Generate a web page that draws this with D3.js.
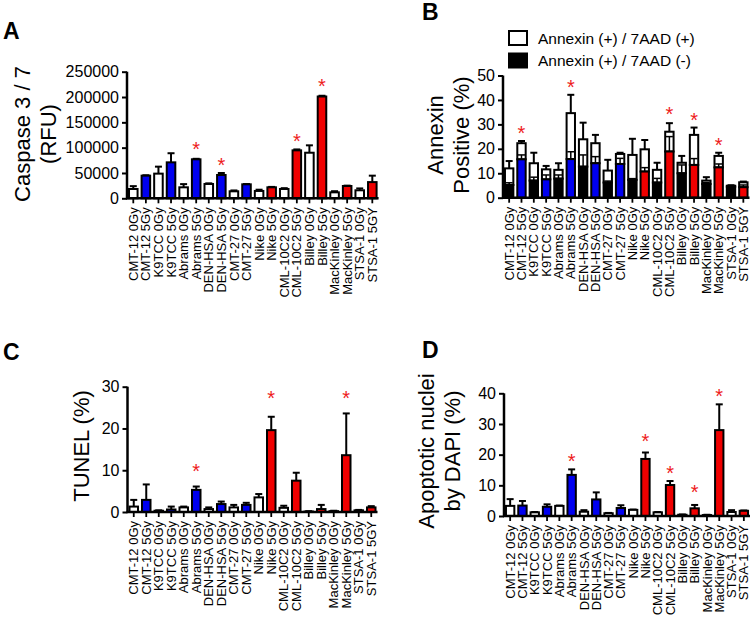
<!DOCTYPE html>
<html><head><meta charset="utf-8">
<script src="https://cdnjs.cloudflare.com/ajax/libs/d3/7.8.5/d3.min.js"></script>
<style>
html,body{margin:0;padding:0;background:#fff;}
text{font-family:"Liberation Sans",Arial,sans-serif;}
</style></head><body>
<svg id="chart" width="750" height="619"></svg>
<script>
// ---------- DATA ----------
const categories = ["CMT-12 0Gy","CMT-12 5Gy","K9TCC 0Gy","K9TCC 5Gy","Abrams 0Gy","Abrams 5Gy",
  "DEN-HSA 0Gy","DEN-HSA 5Gy","CMT-27 0Gy","CMT-27 5Gy","Nike 0Gy","Nike 5Gy",
  "CML-10C2 0Gy","CML-10C2 5Gy","Billey 0Gy","Billey 5Gy","MacKinley 0Gy","MacKinley 5Gy",
  "STSA-1 0Gy","STSA-1 5GY"];
const cellLines = ["CMT-12","K9TCC","Abrams","DEN-HSA","CMT-27","Nike","CML-10C2","Billey","MacKinley","STSA-1"];
const lineGroup = ["G1","G1","G1","G1","G1","G2","G2","G2","G2","G2"];
const legendLabels = ["Annexin (+) / 7AAD (+)","Annexin (+) / 7AAD (-)"];

// Panel A: Caspase 3/7 (RFU)
const caspase    = [18400,44700,48700,71000,21700,77000,28300,46000,13800,27600,14500,21700,18400,94700,90000,201000,11800,24300,15800,32000];
const caspaseErr = [5600,800,13800,18000,6300,1000,1200,4000,1700,500,2500,800,1600,1800,14600,1500,2200,700,3700,12700];
const caspaseTicks = [0,50000,100000,150000,200000,250000];
const caspaseStars = [[5,107200],[7,75600],[13,121600],[15,230200]];

// Panel B: Annexin positive (%) — stacked
const annexin7aadNeg    = [5.2,15.7,7.0,7.5,7.8,15.8,12.7,14.1,6.2,13.8,7.3,10.7,6.2,18.9,10.0,13.4,5.6,12.4,4.5,4.3];
const annexin7aadNegErr = [0.9,1.8,1.4,1.8,1.5,3.0,4.8,2.7,0.6,2.3,0.5,1.6,1.7,6.1,3.4,2.6,0.6,1.4,0.3,0.9];
const annexin7aadPos    = [6.8,6.6,7.1,4.1,3.6,18.8,11.2,8.2,4.9,4.1,10.2,9.1,5.2,8.1,4.3,12.3,1.4,4.7,0.4,2.0];
const annexinTotalErr   = [3.0,0.9,4.3,1.4,2.7,7.5,6.8,3.4,4.4,0.5,6.6,3.8,2.9,3.5,2.8,3.0,1.4,1.3,0.2,0.3];
const annexinTicks = [0,10,20,30,40,50];
const annexinStars = [[1,28.4],[5,47.1],[13,35.9],[15,33.8],[17,23.6]];

// Panel C: TUNEL (%)
const tunel    = [1.3,2.9,0.3,0.6,1.1,5.3,0.7,1.9,1.1,1.7,3.5,19.6,1.0,7.5,0.1,0.7,0.2,13.6,0.4,1.1];
const tunelErr = [1.6,3.7,0.1,0.7,0.2,0.8,0.4,0.6,0.6,0.5,0.8,3.2,0.5,1.9,0.1,1.0,0.1,10.0,0.1,0.3];
const tunelTicks = [0,10,20,30];
const tunelStars = [[5,10.8],[11,28.4],[17,28.4]];

// Panel D: Apoptotic nuclei by DAPI (%)
const dapi    = [3.3,3.4,1.2,3.0,3.3,13.4,1.4,5.4,0.9,2.6,2.0,18.6,1.2,10.1,0.4,2.5,0.3,28.0,1.3,1.7];
const dapiErr = [2.2,1.5,0.1,0.8,0.1,1.8,0.5,2.3,0.1,0.9,0.1,2.1,0.1,1.3,0.1,1.1,0.1,8.4,0.6,0.1];
const dapiTicks = [0,10,20,30,40];
const dapiStars = [[5,19.3],[11,25.8],[13,15.5],[15,9.3],[17,40.5]];

// ---------- DRAWING ----------
const svg = d3.select("#chart");
const groupColor = d3.scaleOrdinal().domain(["G1","G2"]).range(["#0000f0","#f00000"]);
function fillFor(i){
  const cat = categories[i];
  if (/ 0Gy$/.test(cat)) return null;
  const line = cat.replace(/ 5G[yY]$/,"");
  return groupColor(lineGroup[cellLines.indexOf(line)]);
}

function makePanel(cfg){
  const x = d3.scaleBand().domain(categories).range([cfg.x0, cfg.x1]).paddingInner(0.32).paddingOuter(0.16);
  const y = d3.scaleLinear().domain([0, cfg.max]).range([cfg.y0, cfg.yTop]);
  const g = svg.append("g");
  const bw = x.bandwidth();
  const cx = d => x(d) + bw/2;

  function errBar(i, base, top, sw){
    const xc = cx(categories[i]);
    g.append("line").attr("x1",xc).attr("x2",xc).attr("y1",y(base)).attr("y2",y(top))
      .attr("stroke","#000").attr("stroke-width",sw||2);
    g.append("line").attr("x1",xc-3.5).attr("x2",xc+3.5).attr("y1",y(top)).attr("y2",y(top))
      .attr("stroke","#000").attr("stroke-width",sw||2);
  }

  if (cfg.stack){
    const [low, lowErr, high, totErr] = cfg.stack;
    categories.forEach((c,i)=>{
      const tot = low[i]+high[i];
      errBar(i, tot, tot+totErr[i]);
    });
    categories.forEach((c,i)=>{
      const tot = low[i]+high[i];
      g.append("rect").attr("x",x(c)).attr("width",bw)
        .attr("y",y(tot)).attr("height",y(low[i])-y(tot))
        .attr("fill","#fff").attr("stroke","#000").attr("stroke-width",2);
      errBar(i, low[i], low[i]+lowErr[i], 1.5);
      g.append("rect").attr("x",x(c)).attr("width",bw)
        .attr("y",y(low[i])).attr("height",y(0)-y(low[i]))
        .attr("fill", fillFor(i) || "#000").attr("stroke","#000").attr("stroke-width",2);
    });
  } else {
    categories.forEach((c,i)=>{ errBar(i, cfg.values[i], cfg.values[i]+cfg.err[i]); });
    g.selectAll("rect.bar").data(cfg.values).join("rect").attr("class","bar")
      .attr("x",(d,i)=>x(categories[i])).attr("width",bw)
      .attr("y",d=>y(d)).attr("height",d=>y(0)-y(d))
      .attr("fill",(d,i)=>fillFor(i) || "#fff").attr("stroke","#000").attr("stroke-width",2);
  }

  g.selectAll("text.star").data(cfg.stars).join("text").attr("class","star")
    .attr("x",d=>cx(categories[d[0]])).attr("y",d=>y(d[1])+11.5)
    .attr("text-anchor","middle").attr("font-size",20).attr("fill","#ee1c1c").text("*");

  const ya = g.append("g").attr("transform",`translate(${cfg.x0},0)`)
    .call(d3.axisLeft(y).tickValues(cfg.ticks).tickFormat(d3.format("d")).tickSize(5).tickPadding(3));
  ya.select(".domain").attr("stroke-width",2.5).attr("d",`M0,${cfg.y0+1}V${cfg.yTop}`);
  ya.selectAll(".tick line").attr("stroke-width",2);
  ya.selectAll(".tick text").attr("font-size",16).attr("fill","#000").attr("font-family","Liberation Sans, Arial, sans-serif");

  const xa = g.append("g").attr("transform",`translate(0,${cfg.y0})`)
    .call(d3.axisBottom(x).tickSize(5).tickFormat(""));
  xa.select(".domain").attr("stroke-width",2.5).attr("d",`M${cfg.x0-1},0H${cfg.x1}`);
  xa.selectAll(".tick line").attr("stroke-width",1.8);
  g.selectAll("text.xl").data(categories).join("text").attr("class","xl")
    .attr("transform",d=>`translate(${cx(d)+4.6},${cfg.y0+9}) rotate(-90)`)
    .attr("text-anchor","end").attr("font-size",13).attr("fill","#000").text(d=>d);

  cfg.title.forEach((t,k)=>{
    g.append("text").attr("transform",`translate(${cfg.titleX + k*26},${cfg.titleY}) rotate(-90)`)
      .attr("text-anchor","middle").attr("font-size",22).attr("fill","#000").text(t);
  });
  g.append("text").attr("x",cfg.letterX).attr("y",cfg.letterY).attr("font-size",23)
    .attr("font-weight","bold").attr("fill","#000").text(cfg.letter);
  return {x,y,g};
}

makePanel({letter:"A",letterX:3,letterY:39,x0:127,x1:378.6,y0:198.3,yTop:71.7,max:250000,
  ticks:caspaseTicks,values:caspase,err:caspaseErr,stars:caspaseStars,
  title:["Caspase 3 / 7","(RFU)"],titleX:30,titleY:134});

makePanel({letter:"B",letterX:422,letterY:20,x0:503,x1:749.5,y0:197.7,yTop:75.5,max:50,
  ticks:annexinTicks,stack:[annexin7aadNeg,annexin7aadNegErr,annexin7aadPos,annexinTotalErr],
  stars:annexinStars,title:["Annexin","Positive (%)"],titleX:443,titleY:135});

makePanel({letter:"C",letterX:3,letterY:360,x0:127.5,x1:377.5,y0:512,yTop:386.7,max:30,
  ticks:tunelTicks,values:tunel,err:tunelErr,stars:tunelStars,
  title:["TUNEL (%)"],titleX:89,titleY:446});

makePanel({letter:"D",letterX:422,letterY:358,x0:504,x1:750,y0:516,yTop:393.3,max:40,
  ticks:dapiTicks,values:dapi,err:dapiErr,stars:dapiStars,
  title:["Apoptotic nuclei","by DAPI (%)"],titleX:434,titleY:451});

const lg = svg.append("g");
lg.selectAll("rect").data(legendLabels).join("rect")
  .attr("x",509).attr("y",(d,i)=>31+i*22.5).attr("width",18).attr("height",14)
  .attr("fill",(d,i)=>i===0?"#fff":"#000").attr("stroke","#000").attr("stroke-width",2);
lg.selectAll("text").data(legendLabels).join("text")
  .attr("x",538).attr("y",(d,i)=>43.5+i*22.5).attr("font-size",15.5).attr("fill","#000").text(d=>d);
</script>
</body></html>
